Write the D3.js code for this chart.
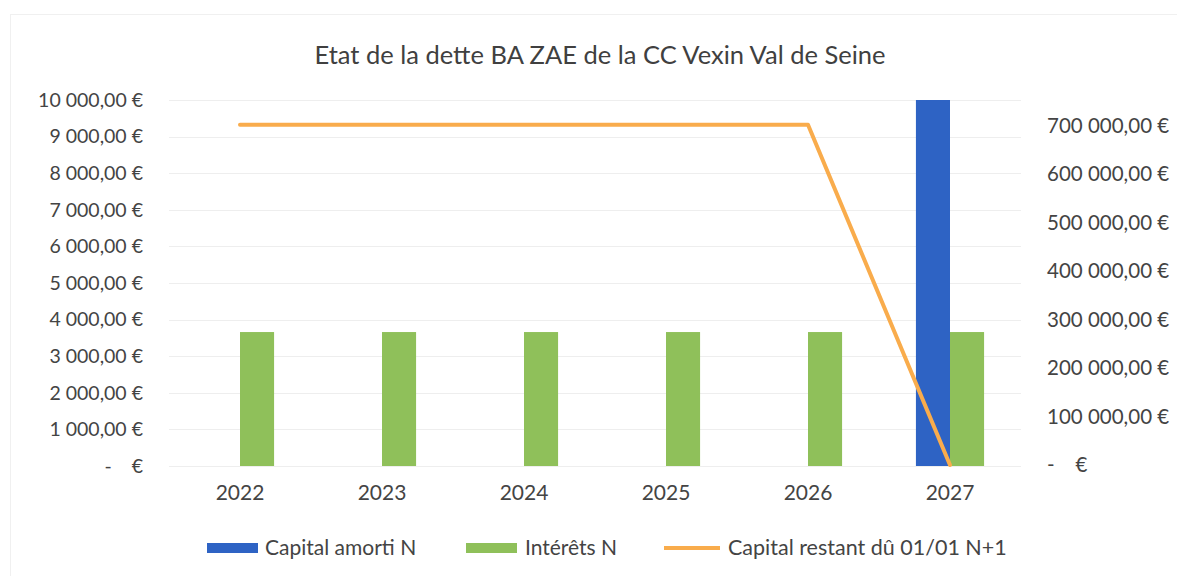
<!DOCTYPE html>
<html><head><meta charset="utf-8">
<script src="https://cdn.jsdelivr.net/npm/d3@7"></script>
<style>
body{margin:0;background:#fff;}
svg text{font-family:"Lato","Open Sans",sans-serif;fill:#444;}
</style></head>
<body><svg id="c" width="1177" height="576"></svg>
<script>
const years = ["2022","2023","2024","2025","2026","2027"];
const capitalAmorti = [0,0,0,0,0,10000];
const interets = [3660,3660,3660,3660,3660,3660];
const capitalRestant = [702000,702000,702000,702000,702000,0];
const leftTicks = [0,1000,2000,3000,4000,5000,6000,7000,8000,9000,10000];
const rightTicks = [0,100000,200000,300000,400000,500000,600000,700000];
const seriesNames = ["Capital amorti N","Intérêts N","Capital restant dû 01/01 N+1"];
const colors = ["#2e63c4","#8fc05a","#f9ac4c"];
const title = "Etat de la dette BA ZAE de la CC Vexin Val de Seine";

const svg = d3.select("#c");
const L = 169, R = 1021, T = 100, B = 466;

// faint frame
svg.append("rect").attr("x",10.5).attr("y",14.5).attr("width",1170).attr("height",570)
  .attr("fill","none").attr("stroke","#f0f0f0");

const x = d3.scaleBand().domain(years).range([L,R]).padding(0);
const bw = x.bandwidth();
const xs = d3.scaleBand().domain([0,1]).range([bw*0.26, bw*0.74]).padding(0);
const yL = d3.scaleLinear().domain([0,10000]).range([B,T]);
const yR = d3.scaleLinear().domain([0,753000]).range([B-1,T]);

// gridlines
svg.append("g").selectAll("line").data(leftTicks).join("line")
  .attr("x1",L).attr("x2",R).attr("y1",d=>Math.round(yL(d))+0.5).attr("y2",d=>Math.round(yL(d))+0.5)
  .attr("stroke","#eeeeee").attr("stroke-width",1);

const fmt = v => {
  const s = d3.format(",.2f")(v).replace(/,/g," ").replace(".",",");
  return s + " €";
};

// left axis
const ga = svg.append("g").attr("transform",`translate(${L},0)`)
  .call(d3.axisLeft(yL).tickValues(leftTicks).tickSize(0).tickPadding(26).tickFormat(d=>d===0?"-    €":fmt(d)));
ga.select(".domain").remove();
ga.selectAll("text").style("font-size","19.5px").style("fill","#444").style("white-space","pre").style("font-family","Lato");

// right axis
const gr = svg.append("g").attr("transform",`translate(${R},0)`)
  .call(d3.axisRight(yR).tickValues(rightTicks).tickSize(0).tickPadding(26).tickFormat(d=>d===0?"-    €":fmt(d)));
gr.select(".domain").remove();
gr.selectAll("text").style("font-size","20.5px").style("fill","#444").style("white-space","pre").style("font-family","Lato");

// x axis
const gx = svg.append("g").attr("transform",`translate(0,${B})`)
  .call(d3.axisBottom(x).tickSize(0).tickPadding(19));
gx.select(".domain").remove();
gx.selectAll("text").style("font-size","21px").style("fill","#444").style("font-family","Lato");

// bars
const series = [capitalAmorti, interets];
series.forEach((vals,si)=>{
  svg.append("g").selectAll("rect").data(years.map((y,i)=>({y,v:vals[i]}))).join("rect")
    .attr("x",d=>x(d.y)+xs(si)).attr("width",xs.bandwidth())
    .attr("y",d=>yL(d.v)).attr("height",d=>B-yL(d.v))
    .attr("fill",colors[si]);
});

// line
const line = d3.line().x((d,i)=>x(years[i])+bw/2).y(d=>yR(d));
svg.append("path").datum(capitalRestant).attr("d",line)
  .attr("fill","none").attr("stroke",colors[2]).attr("stroke-width",4).attr("stroke-linejoin","round").attr("stroke-linecap","round");

// title
svg.append("text").attr("x",600).attr("y",64).attr("text-anchor","middle")
  .style("font-size","25.5px").style("fill","#404040").text(title);

// legend
const leg = [{x:207,tx:265},{x:466,tx:525},{x:664,tx:728}];
leg.forEach((l,i)=>{
  if(i<2){
    svg.append("rect").attr("x",l.x).attr("y",543).attr("width",51).attr("height",10).attr("fill",colors[i]);
  } else {
    svg.append("line").attr("x1",l.x).attr("x2",l.x+56).attr("y1",548).attr("y2",548)
      .attr("stroke",colors[i]).attr("stroke-width",4);
  }
  svg.append("text").attr("x",l.tx).attr("y",555).style("font-size",i===2?"21.5px":"21px").style("fill","#444").text(seriesNames[i]);
});
</script></body></html>
